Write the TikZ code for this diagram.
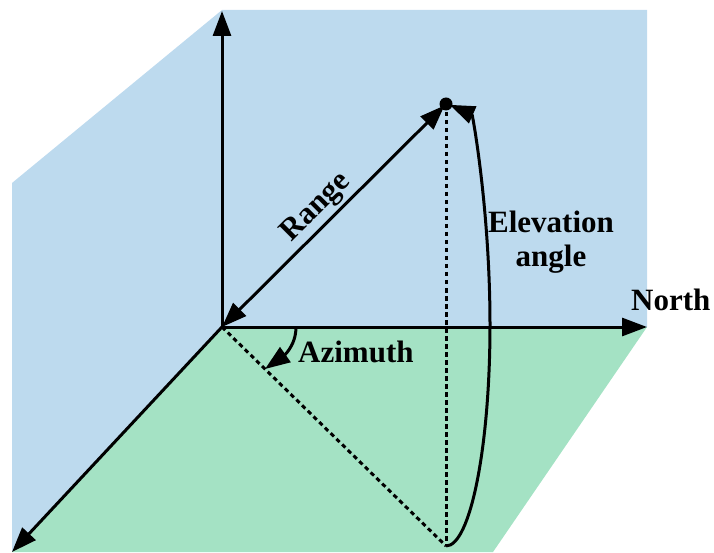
\documentclass[tikz,border=0pt]{standalone}
\usepackage{fontspec}
\setmainfont{Liberation Serif}
\usetikzlibrary{arrows.meta}
\definecolor{skyblue}{RGB}{189,218,238}
\definecolor{mintgreen}{RGB}{164,226,196}
\begin{document}
\begin{tikzpicture}[x=1pt,y=1pt,
  tip/.tip={Triangle[length=25pt,width=18pt]},
  axis/.style={line width=3pt, -tip},
  both/.style={line width=3pt, tip-tip, shorten >=2pt},
  guide/.style={line width=3pt, dash pattern=on 4.5pt off 3.5pt},
  lbl/.style={font=\fontsize{31}{34}\selectfont\bfseries, inner sep=0pt}]
\useasboundingbox (0,0) rectangle (714,552);
\fill[skyblue] (12,369) -- (222,542) -- (647,542) -- (647,225) -- (222,225) -- (12,0) -- cycle;
\fill[mintgreen] (222,225) -- (647,225) -- (493,0) -- (12,0) -- cycle;
\coordinate (O) at (222,225);
\coordinate (up) at (222,541);
\coordinate (north) at (647,225);
\coordinate (diag) at (12,0);
\coordinate (B) at (446,6);
\coordinate (azs) at (296,225);
\coordinate (aze) at (265,183);
\node[circle, fill, inner sep=0pt, minimum size=13pt] (P) at (446,448) {};
\draw[guide] (P.center) -- (B);
\draw[guide] (O) -- (B);
\draw[axis] (O) -- (up);
\draw[axis] (O) -- (north);
\draw[axis] (O) -- (diag);
\draw[both] (O) -- (P.center);
\draw[axis] (B) arc[start angle=-90, end angle=85, x radius=44, y radius=221];
\draw[axis] (azs) .. controls (296,205) and (282,195) .. (aze);
\node[lbl, anchor=base west] (northlbl) at (631,242) {North};
\node[lbl, anchor=base west] (azlbl) at (298,190) {Azimuth};
\node[lbl, rotate=45] (rangelbl) at (317,344) {Range};
\node[lbl, align=center] (elev) at (551,310) {Elevation\\angle};
\end{tikzpicture}
\end{document}
